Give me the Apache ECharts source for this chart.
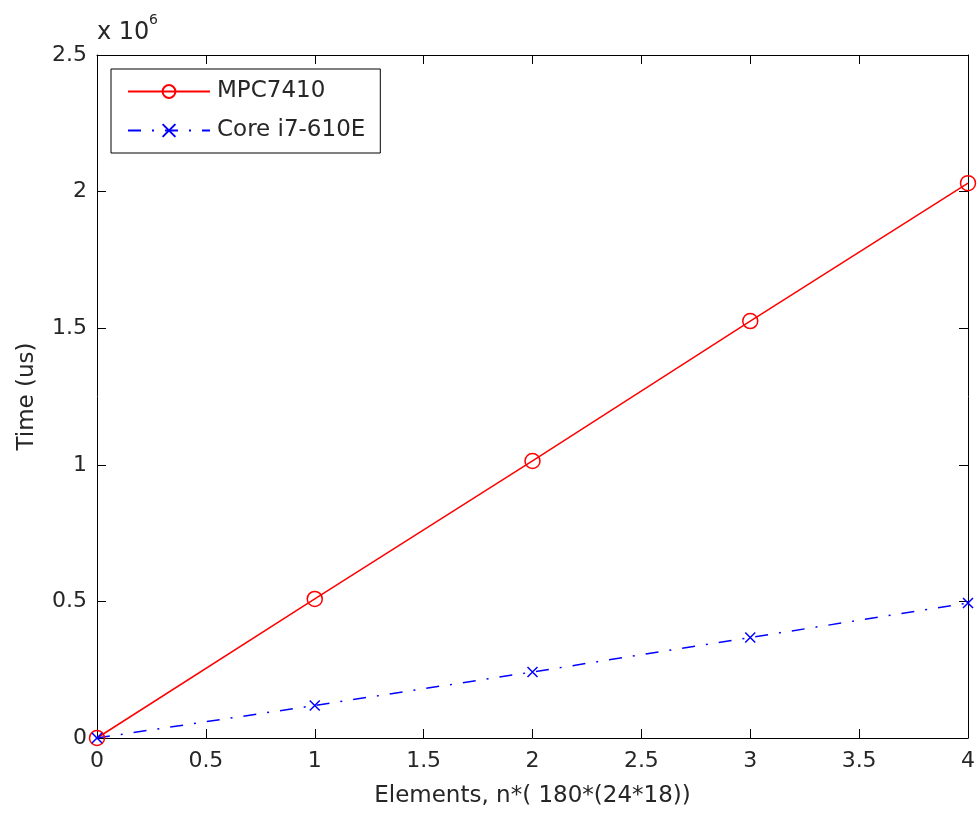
<!DOCTYPE html>
<html>
<head>
<meta charset="utf-8">
<script src="https://cdn.jsdelivr.net/npm/echarts@6/dist/echarts.min.js"></script>
<style>html,body{margin:0;padding:0;background:#fff;}#c{width:979px;height:818px;}</style>
</head>
<body>
<div id="c"></div>
<script>
const xValues = [0, 1, 2, 3, 4];
const mpc7410 = [0, 509000, 1014000, 1526000, 2031000];
const corei7 = [0, 119000, 241600, 368000, 494000];
const seriesNames = ['MPC7410', 'Core i7-610E'];
const xTitle = 'Elements, n*( 180*(24*18))';
const yTitle = 'Time (us)';
const scaleBase = 'x 10';
const scaleExp = '6';

const FONT = 'DejaVu Sans';
const TXT = '#262626';
const chart = echarts.init(document.getElementById('c'), null, {renderer: 'canvas'});
const pairs = (ys) => xValues.map((x, i) => [x, ys[i]]);
const tickCommon = {show: true, inside: true, length: 9, lineStyle: {color: '#000', width: 1}};
const lineCommon = {show: true, onZero: false, lineStyle: {color: '#000', width: 1}};
const xSymbol = 'path://M0,0L10,10M10,0L0,10';

chart.setOption({
  animation: false,
  backgroundColor: '#fff',
  grid: {left: 97, right: 11, top: 55, bottom: 80, containLabel: false},
  xAxis: [{
    type: 'value', min: 0, max: 4, interval: 0.5, position: 'bottom',
    axisLine: lineCommon, axisTick: tickCommon, splitLine: {show: false},
    axisLabel: {color: TXT, fontFamily: FONT, fontSize: 22, margin: 12},
    name: xTitle, nameLocation: 'middle', nameGap: 47,
    nameTextStyle: {color: TXT, fontFamily: FONT, fontSize: 23}
  }, {
    type: 'value', min: 0, max: 4, interval: 0.5, position: 'top',
    axisLine: lineCommon, axisTick: tickCommon, splitLine: {show: false},
    axisLabel: {show: false}
  }],
  yAxis: [{
    type: 'value', min: 0, max: 2500000, interval: 500000, position: 'left',
    axisLine: lineCommon, axisTick: tickCommon, splitLine: {show: false},
    axisLabel: {color: TXT, fontFamily: FONT, fontSize: 22, margin: 10,
      formatter: v => String(v / 1e6)},
    name: yTitle, nameLocation: 'middle', nameGap: 58,
    nameTextStyle: {color: TXT, fontFamily: FONT, fontSize: 23}
  }, {
    type: 'value', min: 0, max: 2500000, interval: 500000, position: 'right',
    axisLine: lineCommon, axisTick: tickCommon, splitLine: {show: false},
    axisLabel: {show: false}
  }],
  legend: {
    left: 111, top: 69, orient: 'vertical',
    padding: [11, 15, 11, 16], itemGap: 16, itemWidth: 82, itemHeight: 16,
    borderColor: '#000', borderWidth: 1, backgroundColor: '#fff', borderRadius: 0,
    textStyle: {color: TXT, fontFamily: FONT, fontSize: 23, padding: [0, 0, 0, 2]},
    data: seriesNames
  },
  graphic: [{
    type: 'text', left: 97, top: 21,
    style: {text: scaleBase, fill: TXT, font: '24px "DejaVu Sans"'}
  }, {
    type: 'text', left: 149, top: 13,
    style: {text: scaleExp, fill: TXT, font: '14px "DejaVu Sans"'}
  }],
  series: [{
    name: seriesNames[0], type: 'line', data: pairs(mpc7410), clip: false,
    color: '#ff0000',
    lineStyle: {color: '#ff0000', width: 1.5, type: 'solid'},
    symbol: 'circle', symbolSize: 15, showAllSymbol: true,
    itemStyle: {color: 'rgba(255,255,255,0)', borderColor: '#ff0000', borderWidth: 1.5},
    emphasis: {disabled: true}
  }, {
    name: seriesNames[1], type: 'line', data: pairs(corei7), clip: false,
    color: '#0000ff',
    lineStyle: {color: '#0000ff', width: 1.5, type: [13, 11, 2, 11]},
    symbol: xSymbol, symbolSize: 10, showAllSymbol: true,
    itemStyle: {color: 'rgba(0,0,255,0)', borderColor: '#0000ff', borderWidth: 1.5},
    emphasis: {disabled: true}
  }]
});
</script>
</body>
</html>
